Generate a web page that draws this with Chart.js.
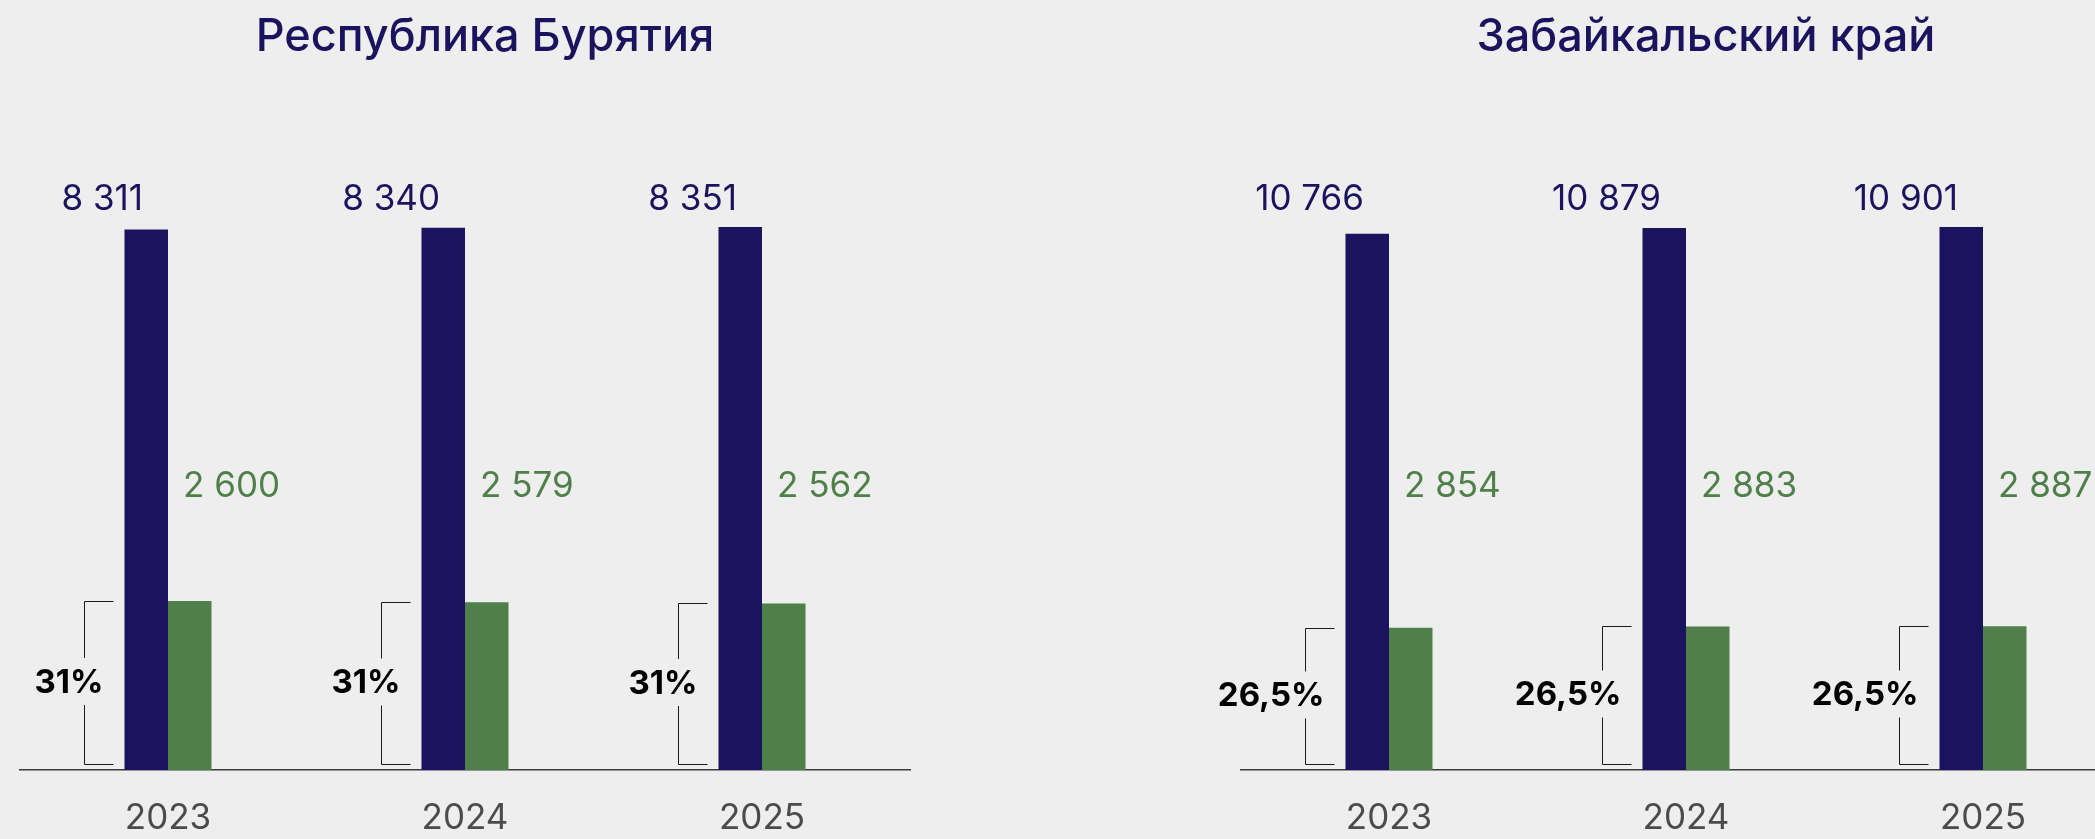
<!DOCTYPE html>
<html lang="ru">
<head>
<meta charset="utf-8">
<title>Республика Бурятия / Забайкальский край</title>
<script src="https://cdn.jsdelivr.net/npm/chart.js@4.4.1/dist/chart.umd.min.js"></script>
<style>
    html, body { margin: 0; padding: 0; background: #eeeeee; width: 2095px; height: 839px; overflow: hidden; }
    .chart_wrapper { position: absolute; top: 0; width: 1011px; height: 839px; }
    #wrap_buryatia { left: -41px; }
    #wrap_zabaikal { left: 1180px; }
</style>
</head>
<body>
<div class="chart_wrapper" id="wrap_buryatia"><canvas id="chart_buryatia"></canvas></div>
<div class="chart_wrapper" id="wrap_zabaikal"><canvas id="chart_zabaikal"></canvas></div>
<script>
const years = [ '2023', '2024', '2025' ];

const buryatiaTitle = 'Республика Бурятия';
const buryatiaTotal = [ 8311, 8340, 8351 ];
const buryatiaPart  = [ 2600, 2579, 2562 ];
const buryatiaShare = [ 31, 31, 31 ];

const zabaikalTitle = 'Забайкальский край';
const zabaikalTotal = [ 10766, 10879, 10901 ];
const zabaikalPart  = [ 2854, 2883, 2887 ];
const zabaikalShare = [ 26.5, 26.5, 26.5 ];

const NAVY  = '#1c135f';
const GREEN = '#4f8049';
const FONT  = 'Inter, "Noto Sans", sans-serif';

function formatNumber( v ) {
    return String( v ).replace( /\B(?=(\d{3})+(?!\d))/g, ' ' );
}

function formatShare( v ) {
    return String( v ).replace( '.', ',' ) + '%';
}

// title, value labels and share brackets
const annotations = {
    id: 'annotations',
    afterDatasetsDraw: function ( chart, args, opts ) {
        const ctx       = chart.ctx;
        const area      = chart.chartArea;
        const base      = chart.scales.y.getPixelForValue( 0 );
        const totalMeta = chart.getDatasetMeta( 0 );
        const partMeta  = chart.getDatasetMeta( 1 );
        const totals    = chart.data.datasets[0].data;
        const parts     = chart.data.datasets[1].data;

        ctx.save();
        ctx.textBaseline = 'middle';

        ctx.font      = '500 45px ' + FONT;
        ctx.fillStyle = NAVY;
        ctx.textAlign = 'center';
        ctx.fillText( opts.title, ( area.left + area.right ) / 2 + 20, 37 );

        totalMeta.data.forEach( function ( bar, i ) {
            const part    = partMeta.data[i];
            const left    = bar.x - bar.width / 2;
            const right   = bar.x + bar.width / 2;
            const partLft = part.x - part.width / 2;

            ctx.font      = '35px ' + FONT;
            ctx.fillStyle = NAVY;
            ctx.textAlign = 'right';
            ctx.fillText( formatNumber( totals[i] ), right - 25, area.top - 28 );

            ctx.fillStyle = GREEN;
            ctx.textAlign = 'left';
            ctx.fillText( formatNumber( parts[i] ), partLft + 15, area.top + 259 );

            // bracket from the green bar top down to the axis
            const lineX  = Math.round( left - 40 ) + 0.5;
            const tickX  = left - 11;
            const top    = Math.round( part.y ) + 0.5;
            const bottom = Math.round( base ) - 5.5;
            const mid    = ( top + bottom ) / 2;

            ctx.strokeStyle = '#1a1a1a';
            ctx.lineWidth   = 1;
            ctx.beginPath();
            ctx.moveTo( tickX, top );
            ctx.lineTo( lineX, top );
            ctx.lineTo( lineX, mid - 25 );
            ctx.moveTo( lineX, mid + 22 );
            ctx.lineTo( lineX, bottom );
            ctx.lineTo( tickX, bottom );
            ctx.stroke();

            ctx.font      = 'bold 33px ' + FONT;
            ctx.fillStyle = '#000000';
            ctx.textAlign = 'right';
            ctx.fillText( formatShare( opts.shares[i] ), lineX + 19, mid );
        } );

        ctx.restore();
    }
};

function buildChart( canvasId, title, total, part, share ) {
    return new Chart( document.getElementById( canvasId ), {
        type: 'bar',
        data: {
            labels: years,
            datasets: [
                { data: total, backgroundColor: NAVY },
                { data: part, backgroundColor: GREEN }
            ]
        },
        options: {
            responsive: true,
            maintainAspectRatio: false,
            animation: false,
            events: [],
            datasets: {
                bar: { barPercentage: 1, categoryPercentage: 0.293 }
            },
            layout: {
                padding: { left: 60.5, right: 59.5, top: 227, bottom: 0 }
            },
            scales: {
                x: {
                    grid: { display: false },
                    border: { display: true, color: '#3a3a3a', width: 1.5 },
                    ticks: {
                        color: '#4b4b4b',
                        padding: 19,
                        font: { family: FONT, size: 35 }
                    },
                    afterFit: function ( scale ) {
                        scale.height = 69;
                    }
                },
                y: {
                    display: false,
                    min: 0,
                    max: Math.max.apply( null, total )
                }
            },
            plugins: {
                legend: { display: false },
                tooltip: { enabled: false },
                annotations: { title: title, shares: share }
            }
        },
        plugins: [ annotations ]
    } );
}

buildChart( 'chart_buryatia', buryatiaTitle, buryatiaTotal, buryatiaPart, buryatiaShare );
buildChart( 'chart_zabaikal', zabaikalTitle, zabaikalTotal, zabaikalPart, zabaikalShare );
</script>
</body>
</html>
